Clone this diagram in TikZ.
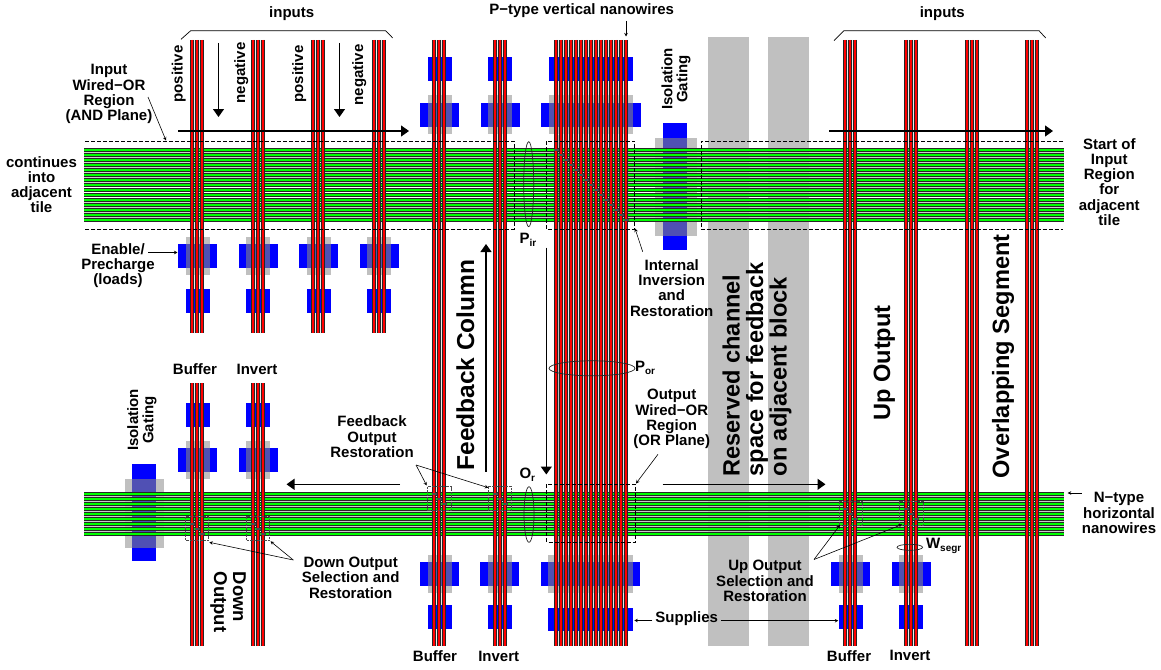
\documentclass[tikz,border=0pt]{standalone}
\usepackage{fontspec}
\setmainfont{Liberation Sans}
\usetikzlibrary{arrows.meta}
\definecolor{gategray}{RGB}{192,192,192}
\definecolor{gateblue}{RGB}{0,0,255}
\definecolor{gatemix}{RGB}{80,80,180}
\definecolor{wiregreen}{RGB}{0,255,0}
\definecolor{wirered}{RGB}{255,0,0}
\definecolor{gapgray}{RGB}{205,205,205}
\tikzset{
 lab/.style={font=\fontsize{15}{15.2}\selectfont\bfseries,align=center,inner sep=0pt},
 midlab/.style={font=\fontsize{18.5}{19}\selectfont\bfseries,align=left,inner sep=0pt},
 biglab/.style={font=\fontsize{23.6}{23.6}\selectfont\bfseries,align=left,inner sep=0pt},
 arrowb/.style={line width=1.2pt,-{Triangle[length=8pt,width=11pt]}},
 leader/.style={line width=0.6pt,-{Stealth[length=3.5pt,width=3.5pt]}},
 dashbox/.style={line width=0.7pt,dash pattern=on 4pt off 2pt},
 fadebox/.style={line width=0.6pt,dash pattern=on 2.5pt off 1pt,black!70},
 ring/.style={line width=0.7pt,black!85},
}
\newcommand\vwires[4]{%
 \foreach \k in {1,...,#2}{
  \pgfmathsetmacro\xx{#1+5*(\k-1)}
  \draw[black!85,line width=3.2pt] (\xx,#3)--(\xx,#4);
  \draw[wirered,line width=2pt] (\xx,#3)--(\xx,#4);
 }}
\newcommand\hwires[2]{%
 \foreach \k in {1,...,#2}{
  \pgfmathsetmacro\yy{#1+5*(\k-1)}
  \draw[black!85,line width=3.2pt] (84,\yy)--(1064,\yy);
  \draw[wiregreen,line width=2pt] (84,\yy)--(1064,\yy);
 }}
\newcommand\crossgate[8]{%
 \fill[gategray] (#1,#5) rectangle (#2,#6);
 \fill[gateblue] (#3,#7) rectangle (#4,#8);
 \fill[gatemix] (#1,#7) rectangle (#2,#8);
}
\newcommand\bluegate[4]{\fill[gateblue] (#1,#3) rectangle (#2,#4);}
\newcommand\crossmarks[3]{%
 \foreach \k in {1,...,#3}{
  \pgfmathsetmacro\xx{#1+5*(\k-1)}
  \pgfmathsetmacro\yy{#2+5*(\k-1)}
  \fill[black!70] (\xx-2.5,\yy-0.9) rectangle (\xx+2.5,\yy+0.9);
 }}
\begin{document}
\begin{tikzpicture}[x=1pt,y=-1pt]
\useasboundingbox (0,0) rectangle (1161,669);
% ---- gaps under the wires
\fill[gapgray] (84,148.5) rectangle (1064,221.5);
\fill[white] (84,186) rectangle (700,189);
\fill[white] (84,191) rectangle (700,194);
\fill[white] (84,196) rectangle (1064,199);
\fill[gapgray] (84,492) rectangle (1064,536);
\foreach \gx in {192,253,313,374}{\fill[gapgray!40] (\gx,40) rectangle (\gx+10,333);}
\foreach \gx in {434,495}{\fill[gapgray!40] (\gx,40) rectangle (\gx+10,646);}
\foreach \gx in {845,906,967,1027}{\fill[gapgray!40] (\gx,40) rectangle (\gx+10,646);}
\foreach \gx in {192,253}{\fill[gapgray!40] (\gx,383) rectangle (\gx+10,646);}
\fill[gapgray!50] (556,40) rectangle (626,646);
\fill[gategray] (556,135) rectangle (561,555);
% ---- reserved channels
\fill[gategray] (707.5,37.5) rectangle (749,646);
\fill[gategray] (768,37.5) rectangle (809,646);
% ---- gates top of columns
\crossgate{427.7}{451.7}{420}{459}{95}{134}{102.7}{126.7}
\crossgate{488.3}{512}{480.7}{519.7}{95}{134}{102.7}{126.7}
\crossgate{549}{633.3}{541.3}{640.7}{95}{134}{102.7}{126.7}
\bluegate{427.7}{451.7}{57.3}{80.7}
\bluegate{488.3}{512}{57.3}{80.7}
\bluegate{549}{633.3}{57.3}{80.7}
% ---- enable/precharge
\foreach \dx in {0,60.5,121,181.5}{
 \crossgate{185.7+\dx}{209.7+\dx}{178+\dx}{217+\dx}{236.7}{275}{244}{267.7}
 \bluegate{185.7+\dx}{209.7+\dx}{289.3}{313.3}
}
% ---- isolation gating
\fill[gategray] (655,138.3) rectangle (696.7,235.7);
\fill[gateblue] (662.7,123.3) rectangle (686.7,250);
\fill[gatemix] (662.7,138.3) rectangle (686.7,235.7);
\fill[gategray] (125,479) rectangle (164,547.7);
\fill[gateblue] (132.3,464) rectangle (156,560.7);
\fill[gatemix] (132.3,479) rectangle (156,547.7);
% ---- lower-left gates
\foreach \dx in {0,60.5}{
 \bluegate{185.7+\dx}{209.5+\dx}{402.7}{426.7}
 \crossgate{185.7+\dx}{209.5+\dx}{178+\dx}{217+\dx}{440.7}{479.3}{448.3}{472}
}
% ---- bottom gates
\foreach \cx/\wa/\wb in {427.7/420/459,488.3/480.3/519.3,838.7/831/870,899.3/891.7/930.7}{
 \pgfmathsetmacro\cxb{\cx+24}
 \crossgate{\cx}{\cxb}{\wa}{\wb}{554.7}{593.3}{562}{586}
 \bluegate{\cx}{\cxb}{604.7}{628.7}
}
\crossgate{548.3}{632.7}{541}{640.3}{554.7}{593.3}{562}{586}
\bluegate{548.3}{632.7}{607.7}{631}
% ---- horizontal N-type wires
\hwires{150}{15}
\hwires{494}{9}
% ---- vertical P-type wires
\foreach \gx in {192,253,313,374}{\vwires{\gx}{3}{40}{333}}
\foreach \gx in {434,495}{\vwires{\gx}{3}{40}{646}}
\vwires{556}{15}{40}{646}
\foreach \gx in {845,906,967,1027}{\vwires{\gx}{3}{40}{646}}
\foreach \gx in {192,253}{\vwires{\gx}{3}{383}{646}}
% ---- crossing marks
\crossmarks{556}{150}{15}
\crossmarks{434}{494}{3}
\crossmarks{495}{494}{3}
\crossmarks{192}{524}{3}
\crossmarks{253}{524}{3}
\crossmarks{845}{509}{3}
\crossmarks{906}{509}{3}
% ---- dashed regions
\draw[dashbox] (85,141.2) -- (514,141.2) -- (514,229.5) -- (85,229.5);
\draw[dashbox] (546.3,141.2) rectangle (634.7,229.5);
\draw[dashbox] (1063,141.2) -- (701,141.2) -- (701,229.5) -- (1063,229.5);
\draw[dashbox] (546.7,484.3) rectangle (635.3,542.3);
\draw[fadebox] (427.7,486.7) rectangle (451.7,510);
\draw[fadebox] (488.3,486.7) rectangle (511.7,510);
\draw[fadebox] (185.7,516.7) rectangle (208.7,540.7);
\draw[fadebox] (246,516.7) rectangle (269.3,540.7);
\draw[fadebox] (839,501.3) rectangle (862.3,525);
\draw[fadebox] (899.7,501.3) rectangle (923,525);
% ---- ellipses
\draw[ring] (528.7,184.2) ellipse (5 and 42.5);
\draw[ring] (529,514.5) ellipse (5 and 27.8);
\draw[ring] (592,368.3) ellipse (43 and 7.5);
\draw[ring] (909.8,547.3) ellipse (12.8 and 3);
% ---- brackets
\draw[line width=0.7pt] (181,39.3)--(190.7,30.7)--(385.7,30.7)--(392.7,38);
\draw[line width=0.7pt] (834,40.7)--(844,30.7)--(1039,30.7)--(1045.7,38);
% ---- labels
\node[lab] (inL) at (291.7,13.3) {inputs};
\node[lab] (inR) at (942.3,13.3) {inputs};
\node[lab] (ptype) at (581.7,11) {P−type vertical nanowires};
\node[lab] (wiredI) at (109,94) {Input\\Wired−OR\\Region\\(AND Plane)};
\node[lab] (cont) at (41.5,184.5) {continues\\into\\adjacent\\tile};
\node[lab] (enable) at (118,265.5) {Enable/\\Precharge\\(loads)};
\node[lab] (internal) at (671.7,288) {Internal\\Inversion\\and\\Restoration};
\node[lab] (start) at (1109.3,182) {Start of\\Input\\Region\\for\\adjacent\\tile};
\node[lab] (wiredO) at (671.7,419) {Output\\Wired−OR\\Region\\(OR Plane)};
\node[lab] (fbres) at (372,436.7) {Feedback\\Output\\Restoration};
\node[lab] (downsel) at (350.7,577.7) {Down Output\\Selection and\\Restoration};
\node[lab] (upsel) at (765,581) {Up Output\\Selection and\\Restoration};
\node[lab] (supplies) at (686.7,619) {Supplies};
\node[lab] (bufTL) at (195,369) {Buffer};
\node[lab] (invTL) at (257,369) {Invert};
\node[lab] (bufB) at (435,656) {Buffer};
\node[lab] (invB) at (498.7,656) {Invert};
\node[lab] (bufR) at (849,655.7) {Buffer};
\node[lab] (invR) at (910,655.7) {Invert};
\node[lab] (ntype) at (1119,513) {N−type\\horizontal\\nanowires};
\node[lab] (pir) at (528,240) {P\raisebox{-3pt}{\fontsize{10}{10}\selectfont ir}};
\node[lab] (por) at (645,368) {P\raisebox{-3pt}{\fontsize{10}{10}\selectfont or}};
\node[lab] (or) at (527.3,475) {O\raisebox{-3pt}{\fontsize{10}{10}\selectfont r}};
\node[lab] (wseg) at (943.7,546) {W\raisebox{-3pt}{\fontsize{10}{10}\selectfont segr}};
\node[lab,rotate=90,anchor=base] (pos1) at (182.7,74) {positive};
\node[lab,rotate=90,anchor=base] (neg1) at (245,73) {negative};
\node[lab,rotate=90,anchor=base] (pos2) at (303,74) {positive};
\node[lab,rotate=90,anchor=base] (neg2) at (363,75) {negative};
\node[lab,rotate=90] (isoT) at (676,79) {Isolation\\Gating};
\node[lab,rotate=90] (isoB) at (142,420) {Isolation\\Gating};
\node[midlab,rotate=-90] (down) at (228,602) {Down\\Output};
\node[biglab,rotate=90,anchor=base,font=\fontsize{24.5}{24.5}\selectfont\bfseries] (feedback) at (474,365) {Feedback Column};
\node[biglab,rotate=90] (reserved) at (757,369.5) {Reserved channel\\space for feedback\\on adjacent block};
\node[biglab,rotate=90,anchor=base] (upout) at (890,363) {Up Output};
\node[biglab,rotate=90,anchor=base] (overlap) at (1009,356.5) {Overlapping Segment};
% ---- connector ends
\coordinate (a1) at (178,131);   \coordinate (a2) at (409,131);
\coordinate (a3) at (829,131);   \coordinate (a4) at (1053,131);
\coordinate (d1) at (218.5,43);  \coordinate (d2) at (218.5,117);
\coordinate (d3) at (339.5,43);  \coordinate (d4) at (339.5,117);
\coordinate (f1) at (486,471.7); \coordinate (f2) at (486,244);
\coordinate (l1) at (546.3,247.7); \coordinate (l2) at (546.3,474.5);
\coordinate (b1) at (400,484.3); \coordinate (b2) at (286.5,484.3);
\coordinate (b3) at (662.7,484.3); \coordinate (b4) at (825.5,484.3);
\draw[arrowb] (a1)--(a2);
\draw[arrowb] (a3)--(a4);
\draw[arrowb] (d1)--(d2);
\draw[arrowb] (d3)--(d4);
\draw[arrowb] (f1)--(f2);
\draw[arrowb] (l1)--(l2);
\draw[arrowb] (b1)--(b2);
\draw[arrowb] (b3)--(b4);
% ---- leaders
\coordinate (wi1) at (148,97);  \coordinate (wi2) at (166,140.5);
\draw[leader] (wi1)--(wi2);
\coordinate (en1) at (148,252.5); \coordinate (en2) at (177.5,252.5);
\draw[leader] (en1)--(en2);
\coordinate (pt1) at (626,21); \coordinate (pt2) at (626,36.5);
\draw[leader] (pt1)--(pt2);
\coordinate (ii1) at (642.7,251.7); \coordinate (ii2) at (635,228.5);
\draw[leader] (ii1)--(ii2);
\coordinate (wo1) at (658,454.3); \coordinate (wo2) at (636,483.5);
\draw[leader] (wo1)--(wo2);
\coordinate (fr0) at (416,465); \coordinate (fr1) at (426.7,485.5); \coordinate (fr2) at (488.3,487.7);
\draw[leader] (fr0)--(fr1);
\draw[leader] (fr0)--(fr2);
\coordinate (dn0) at (293.3,560); \coordinate (dn1) at (209.3,542.3); \coordinate (dn2) at (270.5,541.3);
\draw[leader] (dn0)--(dn1);
\draw[leader] (dn0)--(dn2);
\coordinate (up0) at (814,559.5); \coordinate (up1) at (840,525); \coordinate (up2) at (902,524.5);
\draw[leader] (up0)--(up1);
\draw[leader] (up0)--(up2);
\coordinate (su1) at (652.3,620.5); \coordinate (su2) at (634.3,620.5);
\coordinate (su3) at (721,620.7); \coordinate (su4) at (838.3,620.7);
\draw[leader] (su1)--(su2);
\draw[leader] (su3)--(su4);
\coordinate (nt1) at (1081.7,493); \coordinate (nt2) at (1067.7,493);
\draw[leader] (nt1)--(nt2);
\end{tikzpicture}
\end{document}
